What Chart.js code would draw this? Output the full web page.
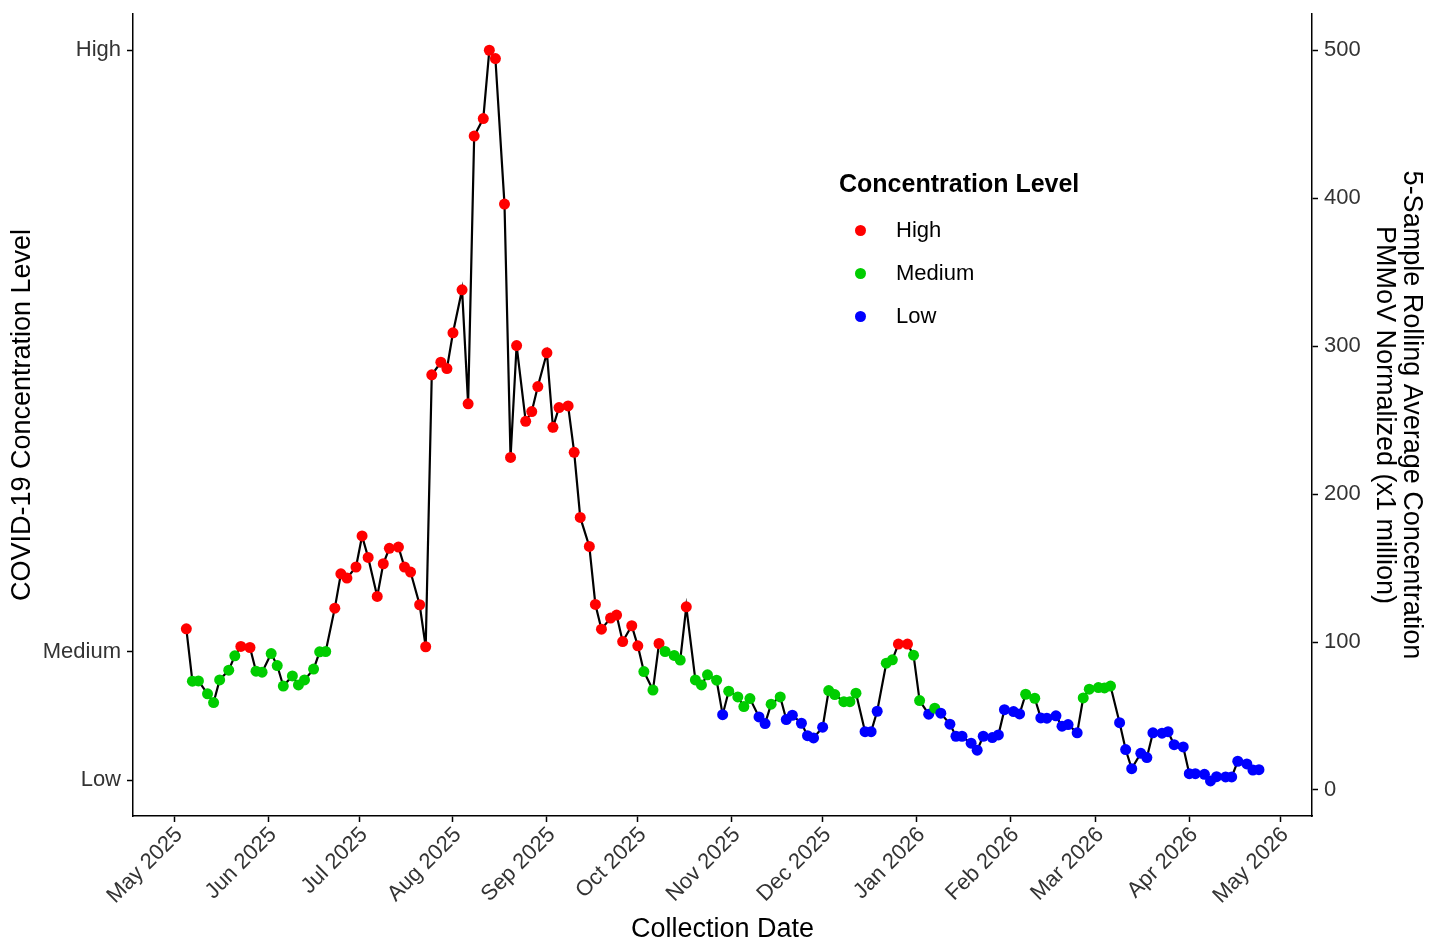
<!DOCTYPE html>
<html>
<head>
<meta charset="utf-8">
<title>COVID-19 Concentration Level</title>
<script src="https://cdn.jsdelivr.net/npm/chart.js@4.4.1/dist/chart.umd.min.js"></script>
<style>
  html, body { margin: 0; padding: 0; background: #fff; }
  #wrap { position: relative; width: 1440px; height: 939px; }
  #legend { position: absolute; left: 839px; top: 168px; font-family: "Liberation Sans", Arial, sans-serif; color: #000; }
  #legend .title { position: absolute; left: 0; top: 0; font-size: 25px; font-weight: bold; line-height: 30px; white-space: nowrap; }
  #legend .row { position: absolute; left: 0; height: 30px; width: 200px; }
  #legend .dot { position: absolute; left: 16px; top: 9.5px; width: 11px; height: 11px; border-radius: 50%; }
  #legend .lbl { position: absolute; left: 57px; top: 0; font-size: 22px; line-height: 30px; }
</style>
</head>
<body>
<div id="wrap">
  <canvas id="chart" width="1440" height="939"></canvas>
  <div id="legend"></div>
</div>
<script>
// sample dates (Mon / Wed / Fri)
const dates = [
  '2025-05-05','2025-05-07','2025-05-09','2025-05-12','2025-05-14','2025-05-16','2025-05-19','2025-05-21','2025-05-23','2025-05-26','2025-05-28','2025-05-30',
  '2025-06-02','2025-06-04','2025-06-06','2025-06-09','2025-06-11','2025-06-13','2025-06-16','2025-06-18','2025-06-20','2025-06-23','2025-06-25','2025-06-27','2025-06-30',
  '2025-07-02','2025-07-04','2025-07-07','2025-07-09','2025-07-11','2025-07-14','2025-07-16','2025-07-18','2025-07-21','2025-07-23','2025-07-25','2025-07-28','2025-07-30',
  '2025-08-01','2025-08-04','2025-08-06','2025-08-08','2025-08-11','2025-08-13','2025-08-15','2025-08-18','2025-08-20','2025-08-22','2025-08-25','2025-08-27','2025-08-29',
  '2025-09-01','2025-09-03','2025-09-05','2025-09-08','2025-09-10','2025-09-12','2025-09-15','2025-09-17','2025-09-19','2025-09-22','2025-09-24','2025-09-26','2025-09-29',
  '2025-10-01','2025-10-03','2025-10-06','2025-10-08','2025-10-10','2025-10-13','2025-10-15','2025-10-17','2025-10-20','2025-10-22','2025-10-24','2025-10-27','2025-10-29','2025-10-31',
  '2025-11-03','2025-11-05','2025-11-07','2025-11-10','2025-11-12','2025-11-14','2025-11-17','2025-11-19','2025-11-21','2025-11-24','2025-11-26','2025-11-28',
  '2025-12-01','2025-12-03','2025-12-05','2025-12-08','2025-12-10','2025-12-12','2025-12-15','2025-12-17','2025-12-19','2025-12-22','2025-12-24','2025-12-26','2025-12-29','2025-12-31',
  '2026-01-02','2026-01-05','2026-01-07','2026-01-09','2026-01-12','2026-01-14','2026-01-16','2026-01-19','2026-01-21','2026-01-23','2026-01-26','2026-01-28','2026-01-30',
  '2026-02-02','2026-02-04','2026-02-06','2026-02-09','2026-02-11','2026-02-13','2026-02-16','2026-02-18','2026-02-20','2026-02-23','2026-02-25','2026-02-27',
  '2026-03-02','2026-03-04','2026-03-06','2026-03-09','2026-03-11','2026-03-13','2026-03-16','2026-03-18','2026-03-20','2026-03-23','2026-03-25','2026-03-27','2026-03-30',
  '2026-04-01','2026-04-03','2026-04-06','2026-04-08','2026-04-10','2026-04-13','2026-04-15','2026-04-17','2026-04-20','2026-04-22','2026-04-24'
];

// 5-sample rolling average, PMMoV normalized (x1 million)
const concentration = [
  108.9, 73.5, 73.7, 65.0, 59.1, 74.4, 81.0, 90.7, 97.0, 96.3, 80.3, 79.6,
  92.2, 84.1, 70.2, 77.1, 71.0, 74.4, 81.7, 93.4, 93.6, 122.9, 146.1, 143.2, 150.7,
  171.7, 157.2, 130.8, 152.9, 163.3, 164.2, 150.7, 147.3, 125.2, 96.8, 280.6, 289.1, 284.8,
  309.0, 338.1, 261.0, 442.0, 453.8, 500.0, 494.4, 396.0, 224.8, 300.4, 249.2, 255.8, 272.7,
  295.5, 245.1, 258.5, 259.6, 228.2, 184.2, 164.6, 125.4, 108.7, 116.2, 118.2, 100.3, 111.0,
  97.4, 80.0, 67.5, 99.0, 93.6, 90.9, 87.8, 123.8, 74.4, 71.0, 77.8, 74.2, 50.9, 66.8,
  62.9, 56.4, 61.8, 49.4, 44.9, 58.0, 62.9, 47.6, 50.5, 45.1, 36.7, 35.2,
  42.4, 67.2, 64.5, 59.7, 59.7, 65.4, 39.4, 39.4, 53.2, 85.7, 88.0, 98.6, 98.6, 91.1,
  60.4, 51.2, 55.3, 51.9, 44.5, 36.3, 36.3, 31.6, 26.9, 36.3, 35.4, 37.2, 54.3,
  53.0, 51.4, 64.7, 62.0, 48.7, 48.5, 50.1, 43.1, 44.2, 38.6, 62.2, 68.1,
  69.2, 69.0, 70.2, 45.5, 27.3, 14.4, 24.8, 21.9, 38.6, 38.4, 39.4, 30.6, 29.1,
  11.0, 11.0, 10.6, 6.1, 9.0, 8.8, 8.8, 19.4, 17.6, 13.5, 13.7
];

// concentration level of each sample: H = High, M = Medium, L = Low
const levels = [
  'H','M','M','M','M','M','M','M','H','H','M','M',
  'M','M','M','M','M','M','M','M','M','H','H','H','H',
  'H','H','H','H','H','H','H','H','H','H','H','H','H',
  'H','H','H','H','H','H','H','H','H','H','H','H','H',
  'H','H','H','H','H','H','H','H','H','H','H','H','H',
  'H','M','M','H','M','M','M','H','M','M','M','M','L','M',
  'M','M','M','L','L','M','M','L','L','L','L','L',
  'L','M','M','M','M','M','L','L','L','M','M','H','H','M',
  'M','L','M','L','L','L','L','L','L','L','L','L','L',
  'L','L','M','M','L','L','L','L','L','L','M','M',
  'M','M','M','L','L','L','L','L','L','L','L','L','L',
  'L','L','L','L','L','L','L','L','L','L','L'
];

const levelNames = { H: 'High', M: 'Medium', L: 'Low' };
const levelColors = { H: '#ff0000', M: '#00cd00', L: '#0000ff' };

const monthTicks = ['2025-05-01','2025-06-01','2025-07-01','2025-08-01','2025-09-01','2025-10-01','2025-11-01',
  '2025-12-01','2026-01-01','2026-02-01','2026-03-01','2026-04-01','2026-05-01'];
const monthLabels = ['May 2025','Jun 2025','Jul 2025','Aug 2025','Sep 2025','Oct 2025','Nov 2025',
  'Dec 2025','Jan 2026','Feb 2026','Mar 2026','Apr 2026','May 2026'];

const levelTickValues = [6.5, 93.4, 500];
const levelTickLabels = ['Low', 'Medium', 'High'];
const rightTickValues = [0, 100, 200, 300, 400, 500];

const FONT = '"Liberation Sans", Arial, sans-serif';
const TICK_COLOR = '#333333';

// days since 1 May 2025
const origin = Date.UTC(2025, 4, 1);
function toDay(s) {
  const [y, m, d] = s.split('-').map(Number);
  return (Date.UTC(y, m - 1, d) - origin) / 86400000;
}

const points = dates.map((d, i) => ({ x: toDay(d), y: concentration[i] }));

const axisGrid = { drawOnChartArea: false, drawTicks: true, tickLength: 6, tickColor: '#000', tickWidth: 1.5 };
const axisBorder = { display: true, color: '#000', width: 1.5 };
const tickFont = { family: FONT, size: 22 };
const titleFont = { family: FONT, size: 27, lineHeight: 1 };

// fixed axis box sizes, no extra padding for end labels
function fixWidth(w) {
  return s => { s.width = w; s.paddingTop = 0; s.paddingBottom = 0; };
}

new Chart(document.getElementById('chart'), {
  type: 'line',
  data: {
    datasets: [{
      data: points,
      yAxisID: 'y',
      borderColor: '#000',
      borderWidth: 2.2,
      tension: 0,
      pointRadius: 5.5,
      pointHoverRadius: 5.5,
      pointBorderWidth: 0,
      pointBackgroundColor: levels.map(l => levelColors[l])
    }]
  },
  options: {
    responsive: false,
    animation: false,
    events: [],
    layout: { padding: { top: 14, left: 0, right: 0, bottom: 0 } },
    plugins: { legend: { display: false }, tooltip: { enabled: false } },
    scales: {
      x: {
        type: 'linear',
        min: -13.6,
        max: 375.5,
        afterBuildTicks: s => { s.ticks = monthTicks.map(t => ({ value: toDay(t) })); },
        afterFit: s => { s.height = 123; s.paddingLeft = 0; s.paddingRight = 0; },
        ticks: {
          autoSkip: false, minRotation: 45, maxRotation: 45, padding: 0, labelOffset: 5,
          color: TICK_COLOR, font: tickFont,
          callback: (v, i) => monthLabels[i]
        },
        grid: axisGrid,
        border: axisBorder,
        title: { display: true, text: 'Collection Date', color: '#000', font: titleFont, padding: { top: 0, bottom: -4 } }
      },
      y: {
        position: 'left',
        min: -17.6,
        max: 524.5,
        afterBuildTicks: s => { s.ticks = levelTickValues.map(v => ({ value: v })); },
        afterFit: fixWidth(133),
        ticks: { color: TICK_COLOR, font: tickFont, padding: 6, callback: (v, i) => levelTickLabels[i] },
        grid: axisGrid,
        border: axisBorder,
        title: { display: true, text: 'COVID-19 Concentration Level', color: '#000', font: titleFont, padding: { top: 9, bottom: 0 } }
      },
      y2: {
        position: 'right',
        min: -17.6,
        max: 524.5,
        afterBuildTicks: s => { s.ticks = rightTickValues.map(v => ({ value: v })); },
        afterFit: fixWidth(128),
        ticks: { color: TICK_COLOR, font: tickFont, padding: 6, callback: v => String(v) },
        grid: axisGrid,
        border: axisBorder,
        title: {
          display: true,
          text: ['5-Sample Rolling Average Concentration', 'PMMoV Normalized (x1 million)'],
          color: '#000', font: titleFont, padding: { top: 15, bottom: 0 }
        }
      }
    }
  }
});

// legend
const legend = document.getElementById('legend');
legend.innerHTML = '<div class="title">Concentration Level</div>';
['H', 'M', 'L'].forEach((k, i) => {
  const row = document.createElement('div');
  row.className = 'row';
  row.style.top = (47 + i * 43) + 'px';
  row.innerHTML = '<div class="dot" style="background:' + levelColors[k] + '"></div><div class="lbl">' + levelNames[k] + '</div>';
  legend.appendChild(row);
});
</script>
</body>
</html>
